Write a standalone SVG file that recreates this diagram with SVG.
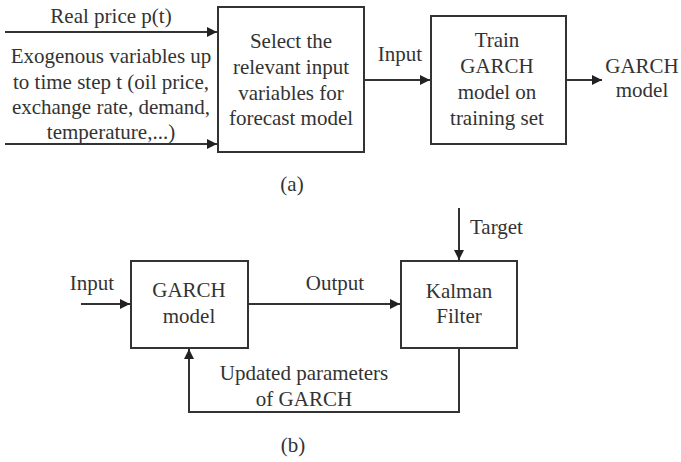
<svg xmlns="http://www.w3.org/2000/svg" width="681" height="462" viewBox="0 0 681 462">
<defs>
<style>
text{font-family:"Liberation Serif","Times New Roman",serif;font-size:21px;fill:#333;text-anchor:middle}
.box{fill:#fff;stroke:#333;stroke-width:2}
.ln{fill:none;stroke:#333;stroke-width:2}
</style>
<marker id="ah" viewBox="0 0 10 10" refX="10" refY="5" markerWidth="5.5" markerHeight="5" orient="auto" markerUnits="strokeWidth">
<path d="M0,0 L10,5 L0,10 z" fill="#222"/>
</marker>
</defs>
<rect width="681" height="462" fill="#fff"/>
<g id="connectors">
<line class="ln" x1="5" y1="32" x2="217" y2="32" marker-end="url(#ah)"/>
<line class="ln" x1="5" y1="144" x2="217" y2="144" marker-end="url(#ah)"/>
<line class="ln" x1="364" y1="80" x2="430" y2="80" marker-end="url(#ah)"/>
<line class="ln" x1="566" y1="80" x2="602" y2="80" marker-end="url(#ah)"/>
<line class="ln" x1="81" y1="304" x2="130" y2="304" marker-end="url(#ah)"/>
<line class="ln" x1="248" y1="304" x2="400" y2="304" marker-end="url(#ah)"/>
<line class="ln" x1="459" y1="208" x2="459" y2="260" marker-end="url(#ah)"/>
<polyline class="ln" points="459,348 459,412 189,412 189,349" marker-end="url(#ah)"/>
<text x="111" y="23">Real price p(t)</text>
<text x="111" y="63">Exogenous variables up</text>
<text x="111" y="89">to time step t (oil price,</text>
<text x="111" y="114">exchange rate, demand,</text>
<text x="111" y="139">temperature,...)</text>
<text x="400" y="61">Input</text>
<text x="642" y="73">GARCH</text>
<text x="642" y="97">model</text>
<text x="92" y="290">Input</text>
<text x="335" y="290">Output</text>
<text x="470" y="234" style="text-anchor:start">Target</text>
<text x="304" y="380">Updated parameters</text>
<text x="304" y="406">of GARCH</text>
</g>
<g id="select">
<rect class="box" x="218" y="7" width="146" height="145"/>
<text x="291" y="48">Select the</text>
<text x="291" y="74">relevant input</text>
<text x="291" y="100">variables for</text>
<text x="291" y="125">forecast model</text>
</g>
<g id="train">
<rect class="box" x="431" y="16" width="135" height="128"/>
<text x="497" y="47">Train</text>
<text x="497" y="73">GARCH</text>
<text x="497" y="99">model on</text>
<text x="497" y="125">training set</text>
</g>
<g id="garch">
<rect class="box" x="131" y="261" width="117" height="87"/>
<text x="189" y="297">GARCH</text>
<text x="189" y="323">model</text>
</g>
<g id="kalman">
<rect class="box" x="401" y="261" width="116" height="87"/>
<text x="459" y="298">Kalman</text>
<text x="459" y="323">Filter</text>
</g>
<text x="292" y="191">(a)</text>
<text x="293" y="452">(b)</text>
</svg>
